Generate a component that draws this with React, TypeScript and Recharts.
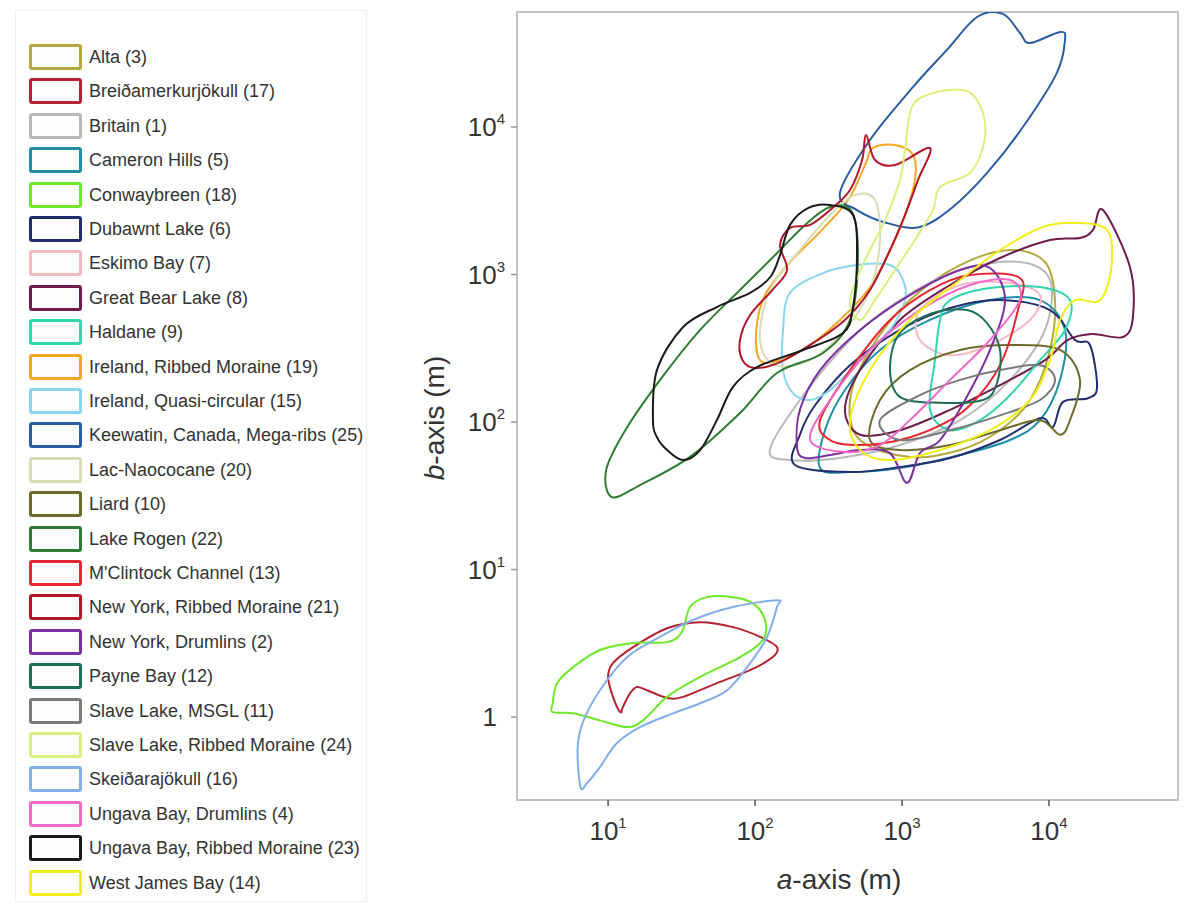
import React from 'react';
import { ComposedChart, Line, XAxis, YAxis, ReferenceArea } from 'recharts';

type Pt = [number, number];

// Contour outlines, [a-axis (m), b-axis (m)]
const alta: Pt[] = [[518, 75.5], [443, 141], [605, 308], [1132, 671], [2483, 1159], [5432, 1466], [9400, 1216], [10990, 671], [10160, 308], [7430, 141], [4645, 88], [2483, 64.6], [1132, 57.9]];
const breidamerkurjokull: Pt[] = [[12.1, 1.08], [10.8, 1.37], [10, 1.87], [10.8, 2.32], [14.8, 2.98], [25.2, 4.0], [42.3, 4.4], [70.8, 4.07], [108, 3.5], [141, 2.98], [132, 2.55], [92.5, 2.08], [55, 1.7], [32.4, 1.37], [25.2, 1.35], [18.4, 1.52], [15.7, 1.6], [14.1, 1.45], [12.6, 1.17]];
const britain: Pt[] = [[126, 64.6], [202, 141], [443, 360], [968, 671], [2483, 1074], [6350, 1216], [10160, 918], [9400, 421], [5432, 193], [2483, 103], [968, 69.8], [378, 57], [173, 55.2]];
const cameronHills: Pt[] = [[277, 48.7], [299, 88], [409, 165], [708, 308], [1549, 492], [3970, 671], [8690, 671], [12850, 421], [11890, 193], [8690, 103], [5432, 75.5], [2483, 59.7], [968, 48.7], [443, 45.8]];
const conwaybreen: Pt[] = [[4.2, 1.24], [4.5, 1.7], [5.8, 2.18], [8.8, 2.85], [14.8, 3.18], [25.2, 3.22], [31.8, 3.77], [36.1, 5.57], [47.1, 6.5], [70.8, 6.5], [96.8, 5.9], [117, 4.55], [113, 3.33], [79, 2.55], [42.3, 1.87], [25.2, 1.37], [17.3, 0.95], [13.5, 0.855], [8.8, 0.95], [5.8, 1.06], [4.2, 1.08]];
const dubawntLake: Pt[] = [[187, 51.1], [202, 82], [256, 130], [443, 243], [968, 421], [2124, 593], [4645, 671], [10160, 574], [15030, 360], [19010, 333], [21230, 173], [18420, 145], [12450, 137], [10650, 92.5], [8690, 106], [4645, 75.5], [2124, 57], [968, 49.5], [443, 45.8]];
const eskimoBay: Pt[] = [[1324, 574], [2483, 849], [5432, 875], [8690, 726], [7430, 492], [3970, 333], [2124, 284], [1324, 360]];
const greatBearLake: Pt[] = [[23300, 2737], [35560, 1124], [37250, 515], [31870, 377], [19630, 395], [13460, 360], [9400, 263], [4645, 178], [2124, 121], [968, 88], [518, 82], [409, 121], [518, 225], [968, 492], [2124, 849], [4645, 1294], [10160, 1713], [16250, 1766], [19950, 2004]];
const haldane: Pt[] = [[2124, 671], [3970, 809], [8690, 822], [13900, 671], [12850, 421], [8690, 263], [5432, 152], [3396, 103], [2124, 88], [1549, 121], [1676, 263], [1815, 492]];
const irelandRibbed: Pt[] = [[108, 263], [102, 421], [117, 726], [173, 1216], [276, 1940], [430, 3200], [560, 5520], [635, 7210], [895, 7550], [1190, 6460], [1225, 4375], [1048, 2530], [803, 1356], [587, 785], [378, 492], [237, 333], [148, 263]];
const irelandQuasi: Pt[] = [[173, 750], [290, 1023], [494, 1160], [828, 1160], [1016, 918], [1048, 671], [828, 421], [518, 263], [324, 165], [237, 141], [181, 157], [155, 225], [155, 421]];
const keewatin: Pt[] = [[378, 3570], [605, 8160], [1190, 18700], [2020, 33300], [3240, 55700], [4860, 58500], [6350, 43400], [7430, 37100], [11900, 44100], [12850, 38900], [11300, 23200], [6650, 10000], [3790, 4880], [2220, 2870], [1325, 2100], [790, 2235], [494, 2735]];
const lacNaococane: Pt[] = [[108, 360], [126, 785], [202, 1466], [324, 2530], [479, 3460], [655, 3200], [708, 1713], [605, 785], [409, 421], [237, 263], [137, 243]];
const liard: Pt[] = [[605, 75.5], [708, 141], [1132, 225], [2483, 308], [5432, 333], [11890, 308], [16250, 193], [13900, 103], [11890, 82], [8690, 103], [4645, 88], [2124, 69.8], [968, 64.6]];
const lakeRogen: Pt[] = [[10.6, 31], [9.7, 47.3], [13.1, 88], [22.6, 193], [42.3, 421], [79, 785], [137, 1356], [219, 2170], [324, 2870], [457, 2650], [501, 1250], [443, 492], [290, 294], [141, 215], [79, 115], [36.1, 58], [16.5, 37.4]];
const mclintock: Pt[] = [[277, 103], [443, 225], [828, 492], [1549, 785], [2904, 993], [6350, 947], [6150, 574], [4645, 243], [2904, 130], [1815, 95], [968, 75.5], [518, 69.8], [324, 75.5]];
const nyRibbed: Pt[] = [[79, 360], [92.5, 531], [131, 785], [165, 1070], [148, 1585], [173, 2070], [237, 2170], [324, 2735], [443, 3740], [535, 5970], [569, 8830], [655, 5970], [895, 5520], [1550, 7210], [1285, 4375], [1048, 2530], [828, 1466], [605, 785], [409, 492], [237, 333], [148, 255], [100, 232], [82, 263]];
const nyDrumlins: Pt[] = [[193, 67.7], [202, 121], [277, 225], [518, 421], [1132, 726], [2483, 1074], [3970, 1107], [5024, 671], [3970, 308], [2685, 141], [1815, 75.5], [1324, 61.6], [1081, 38.6], [828, 61.6], [518, 64.6], [324, 59.7], [219, 57]];
const payneBay: Pt[] = [[828, 236], [968, 401], [1624, 548], [2767, 574], [3786, 469], [4645, 308], [4430, 184], [3558, 141], [1815, 135], [968, 148]];
const slaveMsgl: Pt[] = [[708, 103], [1324, 152], [2483, 193], [4645, 225], [8690, 243], [10990, 193], [8690, 141], [4645, 111], [2124, 88], [968, 75.5]];
const slaveRibbed: Pt[] = [[1048, 6980], [1170, 13700], [1625, 17000], [2600, 17800], [3240, 15200], [3670, 10650], [3560, 7310], [2900, 4880], [1815, 3920], [1625, 2735], [1225, 1715], [895, 1070], [655, 671], [518, 492], [443, 671], [560, 1250], [766, 2340], [968, 4375]];
const skeidarajokull: Pt[] = [[6.5, 0.335], [6.2, 0.6], [6.7, 0.91], [8.8, 1.52], [13.5, 2.55], [22.6, 3.5], [37.8, 4.55], [70.8, 5.57], [141, 6.2], [141, 5.57], [121, 3.5], [92.5, 2.32], [64.6, 1.52], [42.3, 1.24], [27.7, 1.06], [16.5, 0.855], [11.5, 0.667], [8.8, 0.458], [7.2, 0.357]];
const ungavaDrumlins: Pt[] = [[237, 75.5], [324, 141], [605, 308], [1324, 574], [2904, 849], [5432, 918], [6350, 671], [3970, 360], [2124, 193], [1132, 103], [708, 69.8], [409, 62.6]];
const ungavaRibbed: Pt[] = [[20.2, 103], [21.5, 225], [32.4, 441], [55, 602], [92.5, 750], [127, 962], [148, 1356], [173, 2170], [229, 2820], [324, 2960], [464, 2530], [494, 1356], [464, 602], [397, 401], [212, 308], [103, 236], [70.8, 173], [55, 103], [42.3, 64.6], [32.4, 55.2], [25.2, 64.6], [21.5, 79]];
const westJamesBay: Pt[] = [[9110, 2100], [16250, 2234], [24830, 2004], [26850, 1315], [24830, 822], [21230, 652], [15030, 671], [11890, 492], [10160, 263], [7430, 141], [3970, 88], [1815, 64.6], [828, 55.2], [518, 64.6], [443, 103], [605, 225], [1132, 492], [2483, 918], [4645, 1466]];

const names = [
  'Alta (3)', 'Breiðamerkurjökull (17)', 'Britain (1)', 'Cameron Hills (5)', 'Conwaybreen (18)',
  'Dubawnt Lake (6)', 'Eskimo Bay (7)', 'Great Bear Lake (8)', 'Haldane (9)', 'Ireland, Ribbed Moraine (19)',
  'Ireland, Quasi-circular (15)', 'Keewatin, Canada, Mega-ribs (25)', 'Lac-Naococane (20)', 'Liard (10)', 'Lake Rogen (22)',
  "M'Clintock Channel (13)", 'New York, Ribbed Moraine (21)', 'New York, Drumlins (2)', 'Payne Bay (12)', 'Slave Lake, MSGL (11)',
  'Slave Lake, Ribbed Moraine (24)', 'Skeiðarajökull (16)', 'Ungava Bay, Drumlins (4)', 'Ungava Bay, Ribbed Moraine (23)', 'West James Bay (14)',
];

const colors = [
  '#b3a93c', '#b52233', '#b8b8b8', '#1f8fa8', '#6ee82a',
  '#222d6e', '#f5b9c2', '#6e1c4c', '#33d6ac', '#f5a623',
  '#8ad6f2', '#2b5ca3', '#d9dcb4', '#6d6b2c', '#2f7d34',
  '#e8262f', '#b0182a', '#7b2fa0', '#1f6e5a', '#7a7a7a',
  '#d6f27c', '#82afe8', '#f06ac8', '#1a1a1a', '#f2ef1a',
];

const contours = [
  alta, breidamerkurjokull, britain, cameronHills, conwaybreen,
  dubawntLake, eskimoBay, greatBearLake, haldane, irelandRibbed,
  irelandQuasi, keewatin, lacNaococane, liard, lakeRogen,
  mclintock, nyRibbed, nyDrumlins, payneBay, slaveMsgl,
  slaveRibbed, skeidarajokull, ungavaDrumlins, ungavaRibbed, westJamesBay,
];

const xTicks = [10, 100, 1000, 10000];
const yTicks = [1, 10, 100, 1000, 10000];
const X_DOMAIN: [number, number] = [2.4, 75500];
const Y_DOMAIN: [number, number] = [0.274, 60200];

const FONT = '"Liberation Sans", Arial, sans-serif';

// closed Catmull-Rom curve so the outlines come out smooth
const closedSmooth = (context: any) => {
  let pts: number[][] = [];
  return {
    areaStart() {},
    areaEnd() {},
    lineStart() {
      pts = [];
    },
    point(x: number, y: number) {
      pts.push([+x, +y]);
    },
    lineEnd() {
      const n = pts.length;
      if (!n) return;
      context.moveTo(pts[0][0], pts[0][1]);
      for (let i = 0; i < n; i++) {
        const p0 = pts[(i - 1 + n) % n];
        const p1 = pts[i];
        const p2 = pts[(i + 1) % n];
        const p3 = pts[(i + 2) % n];
        context.bezierCurveTo(
          p1[0] + (p2[0] - p0[0]) / 6, p1[1] + (p2[1] - p0[1]) / 6,
          p2[0] - (p3[0] - p1[0]) / 6, p2[1] - (p3[1] - p1[1]) / 6,
          p2[0], p2[1],
        );
      }
      context.closePath();
    },
  };
};

const expOf = (v: number) => Math.round(Math.log10(v));

const XTick = ({ x, y, payload }: any) => (
  <text x={x} y={y + 32} textAnchor="middle" fill="#333" fontSize={26} fontFamily={FONT}>
    10<tspan dy={-12} fontSize={15}>{expOf(payload.value)}</tspan>
  </text>
);

const YTick = ({ x, y, payload }: any) => {
  const e = expOf(payload.value);
  return (
    <text x={x - 4} y={y + 9} textAnchor="end" fill="#333" fontSize={26} fontFamily={FONT}>
      {e === 0 ? (
        <tspan dx={-8}>1</tspan>
      ) : (
        <>
          10<tspan dy={-12} fontSize={15}>{e}</tspan>
        </>
      )}
    </text>
  );
};

const Legend = () => (
  <div
    style={{
      position: 'absolute', left: 15, top: 10, width: 352, height: 892,
      border: '1px solid #eeeeee', boxSizing: 'border-box',
    }}
  >
    {names.map((name, i) => (
      <div key={name} style={{ position: 'absolute', left: 0, top: 32 + i * 34.4, height: 28, width: 350 }}>
        <div
          style={{
            position: 'absolute', left: 13, top: 1, width: 53, height: 26, boxSizing: 'border-box',
            border: `3px solid ${colors[i]}`, borderRadius: 3, background: '#fdfdfd',
          }}
        />
        <span
          style={{
            position: 'absolute', left: 73, top: 3, fontSize: 18, lineHeight: '22px',
            color: '#333', fontFamily: FONT, whiteSpace: 'nowrap',
          }}
        >
          {name}
        </span>
      </div>
    ))}
  </div>
);

export default function App() {
  return (
    <div style={{ position: 'absolute', left: 0, top: 0, width: 1203, height: 906, background: '#fff' }}>
      <Legend />
      <div style={{ position: 'absolute', left: 400, top: 0 }}>
        <ComposedChart width={803} height={906} margin={{ top: 12, right: 25, bottom: 0, left: 0 }}>
          <XAxis
            dataKey="a"
            type="number"
            scale="log"
            domain={X_DOMAIN}
            allowDataOverflow
            ticks={xTicks}
            height={106}
            tick={<XTick />}
            tickSize={6}
            axisLine={{ stroke: '#c4c4c4', strokeWidth: 2 }}
            tickLine={{ stroke: '#555', strokeWidth: 1.5 }}
          />
          <YAxis
            dataKey="b"
            type="number"
            scale="log"
            domain={Y_DOMAIN}
            allowDataOverflow
            ticks={yTicks}
            width={117}
            tick={<YTick />}
            tickSize={6}
            axisLine={{ stroke: '#c4c4c4', strokeWidth: 2 }}
            tickLine={{ stroke: '#999', strokeWidth: 1.5 }}
          />
          <ReferenceArea
            x1={X_DOMAIN[0]}
            x2={X_DOMAIN[1]}
            y1={Y_DOMAIN[0]}
            y2={Y_DOMAIN[1]}
            fill="none"
            stroke="#c4c4c4"
            strokeWidth={2}
          />
          {contours.map((pts, i) => (
            <Line
              key={names[i]}
              data={pts.map(([a, b]) => ({ a, b }))}
              dataKey="b"
              type={closedSmooth as any}
              stroke={colors[i]}
              strokeWidth={2}
              dot={false}
              activeDot={false}
              isAnimationActive={false}
              legendType="none"
            />
          ))}
        </ComposedChart>
      </div>
      <div
        style={{
          position: 'absolute', left: 839, top: 880, transform: 'translate(-50%, -50%)',
          fontSize: 28, fontFamily: FONT, color: '#333', whiteSpace: 'nowrap',
        }}
      >
        <i>a</i>-axis (m)
      </div>
      <div
        style={{
          position: 'absolute', left: 435, top: 418, transform: 'translate(-50%, -50%) rotate(-90deg)',
          fontSize: 28, fontFamily: FONT, color: '#333', whiteSpace: 'nowrap',
        }}
      >
        <i>b</i>-axis (m)
      </div>
    </div>
  );
}
